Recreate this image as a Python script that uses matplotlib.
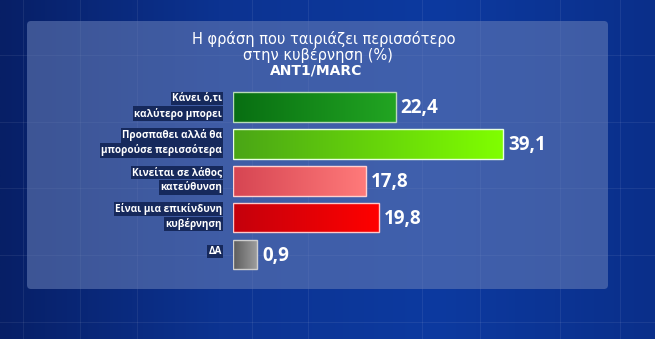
import numpy as np
import matplotlib.pyplot as plt
from matplotlib.patches import Rectangle, FancyBboxPatch
from matplotlib.colors import LinearSegmentedColormap

W, H = 655, 339

title_1 = "Η φράση που ταιριάζει περισσότερο"
title_2 = "στην κυβέρνηση (%)"
title_3 = "ANT1/MARC"

labels = [
    ("Κάνει ό,τι", "καλύτερο μπορει"),
    ("Προσπαθει αλλά θα", "μπορούσε περισσότερα"),
    ("Κινείται σε λάθος", "κατεύθυνση"),
    ("Είναι μια επικίνδυνη", "κυβέρνηση"),
    ("", "ΔΑ"),
]
values = [22.4, 39.1, 17.8, 19.8, 0.9]
value_text = ["22,4", "39,1", "17,8", "19,8", "0,9"]
bar_colors = [
    ("#086e12", "#22a522"),
    ("#4aa516", "#80ff00"),
    ("#d64552", "#ff7a7a"),
    ("#c4000c", "#ff0000"),
    ("#5c5c5c", "#a0a0a0"),
]
edge_colors = ["#b8dcb8", "#e8ffe0", "#ffd0d0", "#ffc8c8", "#cfcfcf"]

fig = plt.figure(figsize=(W / 100, H / 100), dpi=100)

# background
bg = fig.add_axes([0, 0, 1, 1])
bg.set_xlim(0, W)
bg.set_ylim(H, 0)
bg.axis("off")
grad = np.linspace(0, 1, 256).reshape(1, -1)
bg_cmap = LinearSegmentedColormap.from_list("bg", ["#071f66", "#0c3391", "#0d3aa0", "#0a2f8a"])
bg.imshow(grad, extent=[0, W, H, 0], aspect="auto", cmap=bg_cmap, zorder=0)
for gx in [23, 80, 137, 252, 308, 422, 480, 560, 620]:
    bg.axvline(gx, color="white", alpha=0.07, lw=0.8, zorder=1)
for gy in [55, 122, 188, 255, 322]:
    bg.axhline(gy, color="white", alpha=0.07, lw=0.8, zorder=1)
bg.add_patch(FancyBboxPatch((27, 21), 581, 268, boxstyle="round,pad=0,rounding_size=4",
                            fc="#6a80b8", ec="none", alpha=0.55, zorder=2))

bg.text(324, 39, title_1, ha="center", va="center", color="white",
        fontsize=10.5, family="DejaVu Sans", zorder=3)
bg.text(318, 55, title_2, ha="center", va="center", color="white",
        fontsize=10.5, family="DejaVu Sans", zorder=3)
bg.text(316, 71, title_3, ha="center", va="center", color="white",
        fontsize=10, fontweight="bold", family="DejaVu Sans", zorder=3)

# bars axes: left edge of bars at px 233, 6.43 px per unit, offset 2.88 units
px_unit = 6.43
x0 = -2.88
left_px, right_px = 233, 620
top_px, bot_px = 88.55, 273.05
ax = fig.add_axes([left_px / W, 1 - bot_px / H, (right_px - left_px) / W, (bot_px - top_px) / H])
ax.set_xlim(x0, x0 + (right_px - left_px) / px_unit)
ax.set_ylim(4.5, -0.5)
ax.axis("off")
ax.patch.set_alpha(0)

ypos = np.arange(len(values))
bars = ax.barh(ypos, [v - x0 for v in values], left=x0, height=0.8,
               color="none", edgecolor="none", zorder=3)

for i, b in enumerate(bars):
    c0, c1 = bar_colors[i]
    cm = LinearSegmentedColormap.from_list("b%d" % i, [c0, c1])
    bx, by, bw, bh = b.get_x(), b.get_y(), b.get_width(), b.get_height()
    im = ax.imshow(grad, extent=[bx, bx + bw, by + bh, by], aspect="auto", cmap=cm, zorder=3)
    im.set_clip_path(b)
    ax.add_patch(Rectangle((bx, by), bw, bh, fc="none", ec=edge_colors[i], lw=1.0, zorder=4))
    ax.annotate(value_text[i], xy=(bx + bw, ypos[i]), xytext=(5, -1), textcoords="offset pixels",
                ha="left", va="center", color="white", fontsize=13.5, fontweight="bold",
                family="Open Sans", zorder=5, annotation_clip=False)
    l1, l2 = labels[i]
    box = dict(boxstyle="square,pad=0.12", fc="#16295c", ec="none")
    if l1:
        ax.annotate(l1, xy=(x0, ypos[i]), xytext=(-11, 8.5), textcoords="offset pixels",
                    ha="right", va="center", color="white", fontsize=7.2, fontweight="bold",
                    family="Open Sans", bbox=box, annotation_clip=False)
        ax.annotate(l2, xy=(x0, ypos[i]), xytext=(-11, -6.5), textcoords="offset pixels",
                    ha="right", va="center", color="white", fontsize=7.2, fontweight="bold",
                    family="Open Sans", bbox=box, annotation_clip=False)
    else:
        ax.annotate(l2, xy=(x0, ypos[i]), xytext=(-11, 3), textcoords="offset pixels",
                    ha="right", va="center", color="white", fontsize=7.2, fontweight="bold",
                    family="Open Sans", bbox=box, annotation_clip=False)

fig.savefig("out.png", dpi=100)
